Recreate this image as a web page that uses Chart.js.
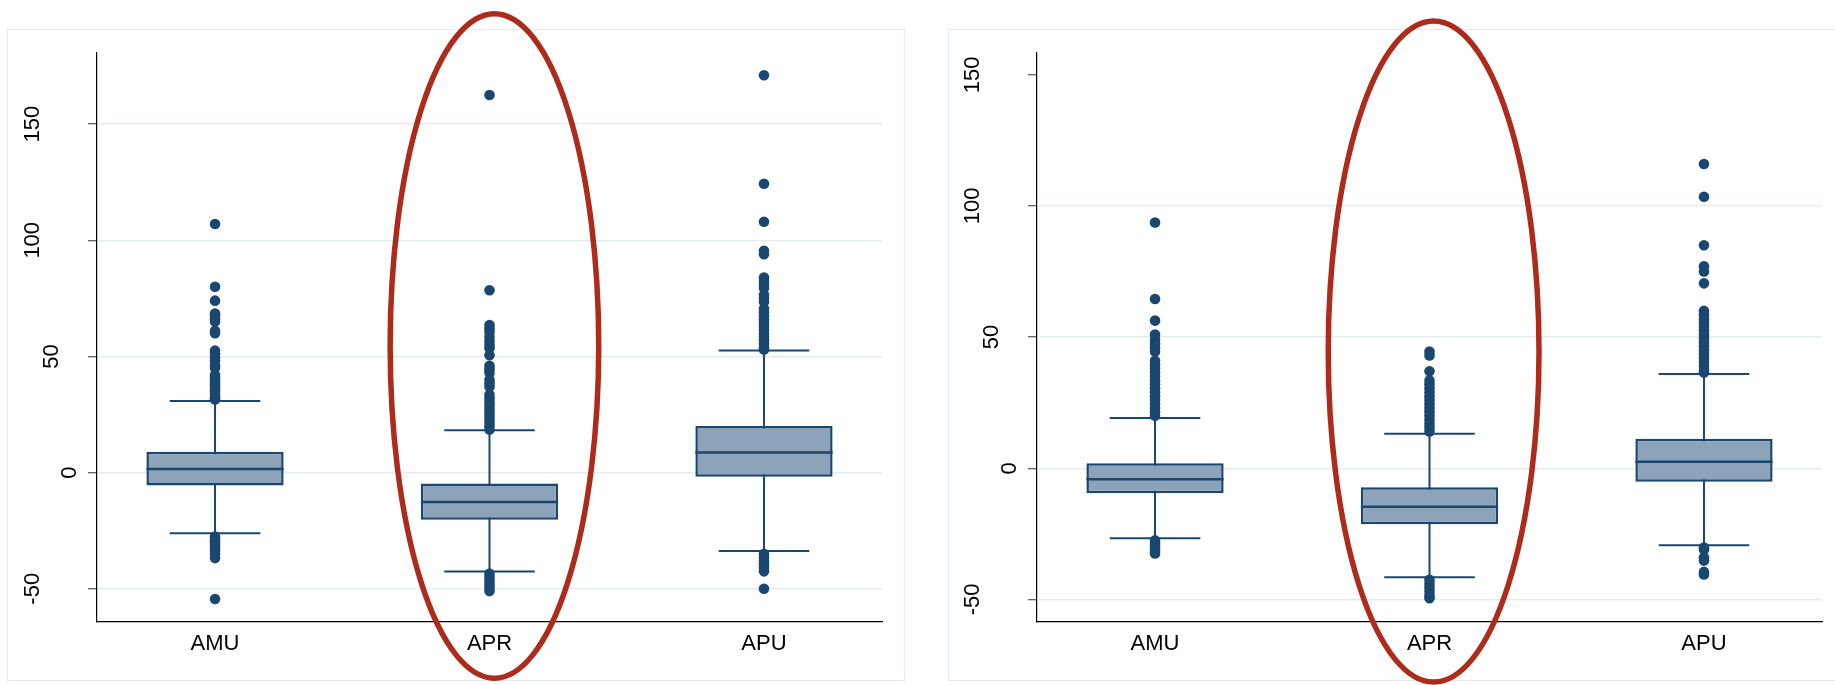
<!DOCTYPE html>
<html lang="en">
<head>
<meta charset="utf-8">
<title>AMU / APR / APU box plots</title>
<script src="https://cdn.jsdelivr.net/npm/chart.js@4"></script>
<style>
  body { margin: 0; background: #fff; }
  #wrap { position: relative; width: 1835px; height: 685px; overflow: hidden; }
  .frame { position: absolute; border: 1.5px solid #e3edf0; box-sizing: border-box; }
  canvas { position: absolute; top: 0; }
</style>
</head>
<body>
<div id="wrap">
  <div class="frame" style="left:7px; top:29px; width:898px; height:652px;"></div>
  <div class="frame" style="left:948px; top:29px; width:900px; height:652px;"></div>
  <canvas id="left" width="915" height="685" style="left:0"></canvas>
  <canvas id="right" width="920" height="685" style="left:915px"></canvas>
</div>
<script>
const groups = ['AMU', 'APR', 'APU'];
const yTicks = [-50, 0, 50, 100, 150];

// left panel: whiskers, quartiles, median
const leftLow = [-26.1, -42.6, -33.7];
const leftQ1 = [-5.6, -20.3, -1.8];
const leftMedian = [1.5, -12.6, 8.7];
const leftQ3 = [9.0, -4.7, 20.1];
const leftHigh = [30.8, 18.2, 52.6];
// left panel outside values
const leftOutAMU = [107, 80, 74, 68.5, 67.5, 66, 65, 61, 60, 52.5, 51, 49.5, 48, 46, 45, 42, 41, 40, 39, 38, 37, 36, 35, 34, 33, 32, 31.5,
  -27.5, -28.5, -29.5, -30.5, -31.5, -32.5, -33.5, -35, -36.8, -54.4];
const leftOutAPR = [162.5, 78.5, 63.5, 62, 60.5, 58.5, 56.5, 55, 53.5, 50.5, 46, 44.5, 43, 40, 38.5, 37, 33.5, 32, 30.5, 29, 27.5, 26, 24.5, 23, 21.5, 20, 18.5,
  -43.5, -45, -46.5, -48, -49.5, -51];
const leftOutAPU = [171, 124.3, 108, 95.5, 94, 84, 82.5, 81, 79.5, 76.5, 75, 73.5, 70.5, 69, 67.5, 66, 64.5, 63, 61.5, 60, 58.5, 57, 55.5, 54, 53,
  -35, -36.5, -38, -39.5, -41, -42.5, -50];

// right panel
const rightLow = [-26.7, -41.5, -29.3];
const rightQ1 = [-9.5, -21.3, -5.1];
const rightMedian = [-4.2, -14.7, 2.5];
const rightQ3 = [1.9, -7.2, 11.3];
const rightHigh = [19.2, 13.2, 35.9];
const rightOutAMU = [93.7, 64.5, 56.3, 51, 49, 47.5, 46, 44.5, 41, 39.5, 38, 36.5, 35, 33.5, 32, 30.5, 29, 27.5, 26, 24.5, 23, 21.5, 20,
  -27.5, -28.5, -29.5, -30.5, -31.5, -32.5];
const rightOutAPR = [44.5, 43, 37, 33.5, 32, 30.5, 29, 27.5, 26, 24.5, 23, 21.5, 20, 18.5, 17, 15.5, 14,
  -42.5, -44, -45.5, -47, -48.5, -49.5];
const rightOutAPU = [116, 103.5, 85, 77, 75, 70.5, 60, 58.5, 57, 55.5, 54, 52.5, 51, 49.5, 48, 46.5, 45, 43.5, 42, 40.5, 39, 37.5, 36.5,
  -30.2, -31, -34, -35.2, -39.5, -40.5];

const NAVY = '#1a476f';
const BOX_FILL = '#8da3b9';
const GRID = '#e3edf0';
const BOX_HALF = 0.25;   // half box width in x units
const CAP_HALF = 0.165;  // half whisker cap width
const FONT = { family: '"Liberation Sans", Arial, sans-serif', size: 22 };

// whisker stems + caps as one broken line
function whiskerPoints(lo, hi) {
    const pts = [];
    groups.forEach((g, i) => {
        const x = i + 1;
        pts.push({ x: x, y: lo[i] }, { x: x, y: hi[i] }, { x: x, y: null });
        pts.push({ x: x - CAP_HALF, y: lo[i] }, { x: x + CAP_HALF, y: lo[i] }, { x: x, y: null });
        pts.push({ x: x - CAP_HALF, y: hi[i] }, { x: x + CAP_HALF, y: hi[i] }, { x: x, y: null });
    });
    return pts;
}

function medianPoints(med) {
    const pts = [];
    med.forEach((m, i) => {
        pts.push({ x: i + 1 - BOX_HALF, y: m }, { x: i + 1 + BOX_HALF, y: m }, { x: i + 1, y: null });
    });
    return pts;
}

// rotated y labels (Stata style) and the red ring
const panelText = {
    id: 'panelText',
    afterDraw(chart, args, opts) {
        const { ctx } = chart;
        const x = chart.scales.x, y = chart.scales.y;
        ctx.save();
        ctx.font = FONT.size + 'px ' + FONT.family;
        ctx.fillStyle = '#000';
        ctx.textAlign = 'center';
        ctx.textBaseline = 'middle';
        y.ticks.forEach(t => {
            const label = String(t.value);
            ctx.save();
            ctx.translate(y.right - (8 + 18.7 * label.length), y.getPixelForValue(t.value));
            ctx.rotate(-Math.PI / 2);
            ctx.fillText(label, 0, 0);
            ctx.restore();
        });
        const r = opts.ring;
        const cx = x.getPixelForValue(r.x), cy = y.getPixelForValue(r.y);
        ctx.beginPath();
        ctx.ellipse(cx, cy, x.getPixelForValue(r.x + r.rx) - cx, cy - y.getPixelForValue(r.y + r.ry), 0, 0, Math.PI * 2);
        ctx.strokeStyle = '#ad2b1a';
        ctx.lineWidth = 5.5;
        ctx.stroke();
        ctx.restore();
    }
};

function makePanel(id, p) {
    const outliers = [];
    p.out.forEach((list, i) => list.forEach(v => outliers.push({ x: i + 1, y: v })));

    new Chart(document.getElementById(id), {
        type: 'bar',
        data: {
            datasets: [{
                type: 'bar',
                data: groups.map((g, i) => ({ x: i + 1, y: [p.q1[i], p.q3[i]] })),
                backgroundColor: BOX_FILL,
                borderColor: NAVY,
                borderWidth: 2.5,
                borderSkipped: false,
                categoryPercentage: 1,
                barPercentage: BOX_HALF * 2,
                order: 2
            }, {
                type: 'line',
                data: whiskerPoints(p.low, p.high),
                borderColor: NAVY,
                borderWidth: 2,
                pointRadius: 0,
                spanGaps: false,
                fill: false,
                order: 3
            }, {
                type: 'line',
                data: medianPoints(p.median),
                borderColor: NAVY,
                borderWidth: 2.5,
                pointRadius: 0,
                spanGaps: false,
                fill: false,
                order: 1
            }, {
                type: 'scatter',
                data: outliers,
                backgroundColor: NAVY,
                borderWidth: 0,
                pointRadius: 5.3,
                order: 0
            }]
        },
        options: {
            responsive: false,
            animation: false,
            devicePixelRatio: 1,
            layout: { padding: { top: 53, right: p.padRight, bottom: 0, left: 0 } },
            plugins: {
                legend: { display: false },
                tooltip: { enabled: false },
                panelText: { ring: p.ring }
            },
            scales: {
                x: {
                    type: 'linear',
                    offset: false,
                    min: 0.57,
                    max: 3.43,
                    afterBuildTicks: s => { s.ticks = groups.map((g, i) => ({ value: i + 1 })); },
                    afterFit: s => { s.height = 63; },
                    grid: { display: false, drawTicks: false },
                    border: { display: true, color: '#000', width: 1.3 },
                    ticks: {
                        callback: (v, i) => groups[i],
                        autoSkip: false,
                        maxRotation: 0,
                        padding: 9,
                        color: '#000',
                        font: FONT
                    }
                },
                y: {
                    type: 'linear',
                    min: p.yMin,
                    max: p.yMax,
                    afterBuildTicks: s => { s.ticks = yTicks.map(v => ({ value: v })); },
                    afterFit: s => { s.width = p.axisWidth; },
                    grid: {
                        color: c => (c.tick && p.noGrid.includes(c.tick.value)) ? 'rgba(0,0,0,0)' : GRID,
                        lineWidth: 1.5,
                        tickLength: 9,
                        tickColor: '#333',
                        tickWidth: 1
                    },
                    border: { display: true, color: '#000', width: 1.2 },
                    ticks: { display: false }
                }
            }
        },
        plugins: [panelText]
    });
}

makePanel('left', {
    low: leftLow, q1: leftQ1, median: leftMedian, q3: leftQ3, high: leftHigh,
    out: [leftOutAMU, leftOutAPR, leftOutAPU],
    yMin: -64.3, yMax: 180.6, axisWidth: 97, padRight: 33, noGrid: [],
    ring: { x: 2.018, y: 54.5, rx: 0.38, ry: 143 }
});

makePanel('right', {
    low: rightLow, q1: rightQ1, median: rightMedian, q3: rightQ3, high: rightHigh,
    out: [rightOutAMU, rightOutAPR, rightOutAPU],
    yMin: -58.6, yMax: 158.3, axisWidth: 122, padRight: 13, noGrid: [150],
    ring: { x: 2.015, y: 44.5, rx: 0.384, ry: 126 }
});
</script>
</body>
</html>
